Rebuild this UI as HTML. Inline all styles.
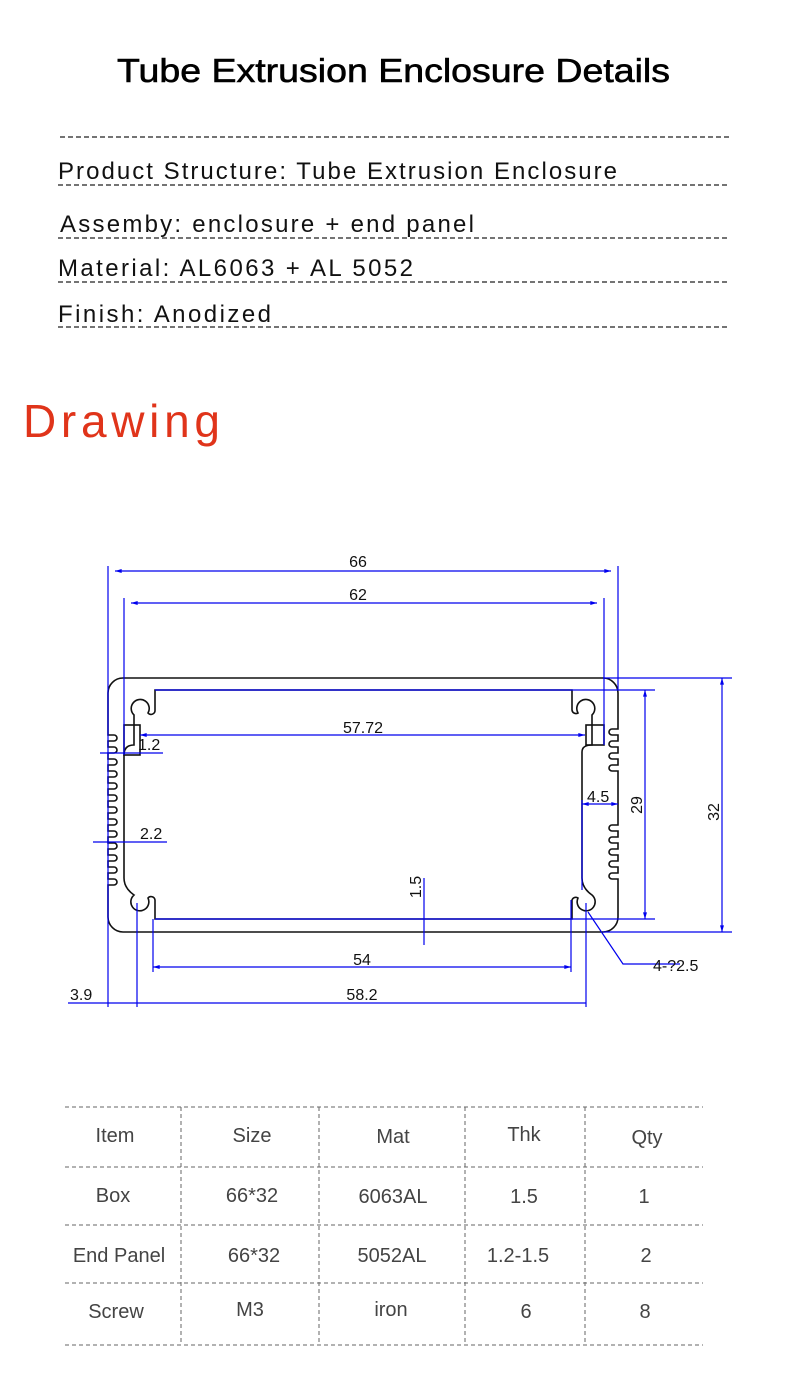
<!DOCTYPE html>
<html><head><meta charset="utf-8"><style>
html,body{margin:0;padding:0;background:#fff;width:790px;height:1385px;overflow:hidden}
svg{display:block}
</style></head><body>
<svg width="790" height="1385" viewBox="0 0 790 1385" xmlns="http://www.w3.org/2000/svg" font-family="Liberation Sans, sans-serif">
<defs>
<marker id="a" viewBox="0 0 10 6" refX="10" refY="3" markerWidth="8" markerHeight="4" orient="auto-start-reverse" markerUnits="userSpaceOnUse"><path d="M0,0 L10,3 L0,6 Z" fill="#0000ee"/></marker>
</defs>
<text x="117" y="82" font-size="33" textLength="553" lengthAdjust="spacingAndGlyphs" fill="#000" stroke="#000" stroke-width="0.6">Tube Extrusion Enclosure Details</text>
<g stroke="#222" stroke-width="1.3" stroke-dasharray="5,3">
<line x1="60" y1="137" x2="730" y2="137"/>
<line x1="58" y1="185" x2="730" y2="185"/>
<line x1="58" y1="238" x2="730" y2="238"/>
<line x1="58" y1="282" x2="730" y2="282"/>
<line x1="58" y1="327" x2="730" y2="327"/>
</g>
<g font-size="24" fill="#111">
<text x="58" y="179" textLength="559" lengthAdjust="spacing">Product Structure:  Tube Extrusion Enclosure</text>
<text x="60" y="232" textLength="414" lengthAdjust="spacing">Assemby:  enclosure + end panel</text>
<text x="58" y="276" textLength="355" lengthAdjust="spacing">Material:  AL6063 + AL 5052</text>
<text x="58" y="322" textLength="213" lengthAdjust="spacing">Finish:  Anodized</text>
</g>
<text x="23" y="437" font-size="46" fill="#e0341a" textLength="197" lengthAdjust="spacing">Drawing</text>

<g fill="none" stroke="#111" stroke-width="1.6">
<path d="M123,678 H603 A15,15 0 0 1 618,693 V729
 h-6 a3,3 0 0 0 0,6 h6 v6 h-6 a3,3 0 0 0 0,6 h6 v6 h-6 a3,3 0 0 0 0,6 h6 v6 h-6 a3,3 0 0 0 0,6 h6 v6
 V825
 h-6 a3,3 0 0 0 0,6 h6 v6 h-6 a3,3 0 0 0 0,6 h6 v6 h-6 a3,3 0 0 0 0,6 h6 v6 h-6 a3,3 0 0 0 0,6 h6 v6 h-6 a3,3 0 0 0 0,6 h6 v6
 V917 A15,15 0 0 1 603,932 H123 A15,15 0 0 1 108,917 V885
 h6 a3,3 0 0 0 0,-6 h-6 v-6 h6 a3,3 0 0 0 0,-6 h-6 v-6 h6 a3,3 0 0 0 0,-6 h-6 v-6
 h6 a3,3 0 0 0 0,-6 h-6 v-6 h6 a3,3 0 0 0 0,-6 h-6 v-6 h6 a3,3 0 0 0 0,-6 h-6 v-6
 h6 a3,3 0 0 0 0,-6 h-6 v-6 h6 a3,3 0 0 0 0,-6 h-6 v-6 h6 a3,3 0 0 0 0,-6 h-6 v-6
 h6 a3,3 0 0 0 0,-6 h-6 v-6 h6 a3,3 0 0 0 0,-6 h-6 v-6 h6 a3,3 0 0 0 0,-6 h-6 v-6
 h6 a3,3 0 0 0 0,-6 h-6 v-6
 V693 A15,15 0 0 1 123,678 Z"/>
<path d="M155,690 H572 V710 a4,4 0 0 0 6,3 A9,9 0 1 1 592,715 V745 Q582,745 582,752 V878 Q582,888 592,895 A9,9 0 1 1 578,898 a4,4 0 0 0 -6,2 V919 H155 V900 a4,4 0 0 0 -7,-2 A9,9 0 1 1 134,895 Q124,888 124,878 V755 Q124,745 134,745 V715 A9,9 0 1 1 148,713 a4,4 0 0 0 7,-3 Z"/>
<rect x="124" y="725" width="16" height="30"/>
<rect x="586" y="725" width="18" height="20"/>
</g>

<g stroke="#0000ee" stroke-width="1.2" fill="none">
<line x1="108" y1="566" x2="108" y2="1007"/>
<line x1="124" y1="598" x2="124" y2="755"/>
<line x1="618" y1="566" x2="618" y2="690"/>
<line x1="604" y1="598" x2="604" y2="745"/>
<line x1="137" y1="903" x2="137" y2="1007"/>
<line x1="586" y1="903" x2="586" y2="1007"/>
<line x1="153" y1="919" x2="153" y2="972"/>
<line x1="571" y1="900" x2="571" y2="972"/>
<line x1="155" y1="690" x2="655" y2="690"/>
<line x1="155" y1="919" x2="655" y2="919"/>
<line x1="603" y1="678" x2="732" y2="678"/>
<line x1="603" y1="932" x2="732" y2="932"/>
<line x1="115" y1="571" x2="611" y2="571" marker-start="url(#a)" marker-end="url(#a)"/>
<line x1="131" y1="603" x2="597" y2="603" marker-start="url(#a)" marker-end="url(#a)"/>
<line x1="140" y1="735" x2="585" y2="735" marker-start="url(#a)" marker-end="url(#a)"/>
<line x1="100" y1="753" x2="163" y2="753"/>
<line x1="93" y1="842" x2="167" y2="842"/>
<line x1="582" y1="804" x2="618" y2="804" marker-start="url(#a)" marker-end="url(#a)"/>
<line x1="582" y1="800" x2="582" y2="890"/>
<line x1="645" y1="690" x2="645" y2="919" marker-start="url(#a)" marker-end="url(#a)"/>
<line x1="722" y1="678" x2="722" y2="932" marker-start="url(#a)" marker-end="url(#a)"/>
<line x1="424" y1="878" x2="424" y2="945"/>
<line x1="153" y1="967" x2="571" y2="967" marker-start="url(#a)" marker-end="url(#a)"/>
<line x1="68" y1="1003" x2="586" y2="1003"/>
<polyline points="588,912 623,964 680,964"/>
</g>
<g font-size="16" fill="#111">
<text x="358" y="567" text-anchor="middle">66</text>
<text x="358" y="600" text-anchor="middle">62</text>
<text x="363" y="733" text-anchor="middle">57.72</text>
<text x="138" y="750">1.2</text>
<text x="140" y="839">2.2</text>
<text x="587" y="802">4.5</text>
<text x="362" y="965" text-anchor="middle">54</text>
<text x="362" y="1000" text-anchor="middle">58.2</text>
<text x="70" y="1000">3.9</text>
<text x="653" y="971">4-?2.5</text>
<text transform="translate(642,805) rotate(-90)" text-anchor="middle">29</text>
<text transform="translate(719,812) rotate(-90)" text-anchor="middle">32</text>
<text transform="translate(421,887) rotate(-90)" text-anchor="middle">1.5</text>
</g>

<g stroke="#666" stroke-width="1" stroke-dasharray="4,3">
<line x1="65" y1="1107" x2="703" y2="1107"/>
<line x1="65" y1="1167" x2="703" y2="1167"/>
<line x1="65" y1="1225" x2="703" y2="1225"/>
<line x1="65" y1="1283" x2="703" y2="1283"/>
<line x1="65" y1="1345" x2="703" y2="1345"/>
<line x1="181" y1="1107" x2="181" y2="1345"/>
<line x1="319" y1="1107" x2="319" y2="1345"/>
<line x1="465" y1="1107" x2="465" y2="1345"/>
<line x1="585" y1="1107" x2="585" y2="1345"/>
</g>
<g font-size="20" fill="#444" text-anchor="middle">
<text x="115" y="1142">Item</text><text x="252" y="1142">Size</text><text x="393" y="1143">Mat</text><text x="524" y="1141">Thk</text><text x="647" y="1144">Qty</text>
<text x="113" y="1202">Box</text><text x="252" y="1202">66*32</text><text x="393" y="1203">6063AL</text><text x="524" y="1203">1.5</text><text x="644" y="1203">1</text>
<text x="119" y="1262">End Panel</text><text x="254" y="1262">66*32</text><text x="392" y="1262">5052AL</text><text x="518" y="1262">1.2-1.5</text><text x="646" y="1262">2</text>
<text x="116" y="1318">Screw</text><text x="250" y="1316">M3</text><text x="391" y="1316">iron</text><text x="526" y="1318">6</text><text x="645" y="1318">8</text>
</g>
</svg>
</body></html>
